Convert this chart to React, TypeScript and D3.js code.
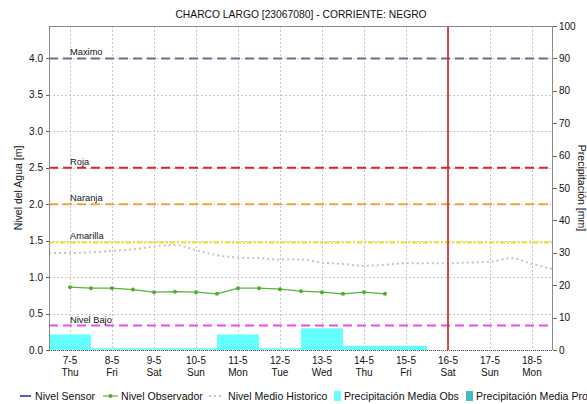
import React from 'react';
import * as d3 from 'd3';

// ---------- data ----------
const title = 'CHARCO LARGO [23067080] - CORRIENTE: NEGRO';
const dayDates = ['2020-05-07','2020-05-08','2020-05-09','2020-05-10','2020-05-11','2020-05-12','2020-05-13','2020-05-14','2020-05-15','2020-05-16','2020-05-17','2020-05-18'];
const dayLabels = ['7-5','8-5','9-5','10-5','11-5','12-5','13-5','14-5','15-5','16-5','17-5','18-5'];
const weekdayLabels = ['Thu','Fri','Sat','Sun','Mon','Tue','Wed','Thu','Fri','Sat','Sun','Mon'];

const precipDates = ['2020-05-07','2020-05-08','2020-05-09','2020-05-10','2020-05-11','2020-05-12','2020-05-13','2020-05-14','2020-05-15'];
const precipObs = [4.8, 0.5, 0.5, 0.5, 4.8, 0.5, 6.7, 1.3, 1.3];

const observerTimes = ['2020-05-07T00','2020-05-07T12','2020-05-08T00','2020-05-08T12','2020-05-09T00','2020-05-09T12','2020-05-10T00','2020-05-10T12','2020-05-11T00','2020-05-11T12','2020-05-12T00','2020-05-12T12','2020-05-13T00','2020-05-13T12','2020-05-14T00','2020-05-14T12'];
const observerLevels = [0.862, 0.848, 0.848, 0.829, 0.793, 0.80, 0.793, 0.77, 0.848, 0.848, 0.834, 0.807, 0.793, 0.77, 0.793, 0.77];

const historicTimes = ['2020-05-06T12','2020-05-07T00','2020-05-07T12','2020-05-08T00','2020-05-08T12','2020-05-09T00','2020-05-09T12','2020-05-10T00','2020-05-10T12','2020-05-11T00','2020-05-11T12','2020-05-12T00','2020-05-12T12','2020-05-13T00','2020-05-13T12','2020-05-14T00','2020-05-14T12','2020-05-15T00','2020-05-15T12','2020-05-16T00','2020-05-16T12','2020-05-17T00','2020-05-17T12','2020-05-18T00','2020-05-18T12'];
const historicLevels = [1.33, 1.33, 1.34, 1.36, 1.38, 1.42, 1.44, 1.37, 1.30, 1.27, 1.26, 1.24, 1.24, 1.20, 1.18, 1.155, 1.17, 1.19, 1.19, 1.19, 1.20, 1.21, 1.26, 1.18, 1.11];

const thresholdNames = ['Maximo', 'Roja', 'Naranja', 'Amarilla', 'Nivel Bajo'];
const thresholdValues = [4.0, 2.5, 2.0, 1.475, 0.335];

const leftTicks = [0, 0.5, 1, 1.5, 2, 2.5, 3, 3.5, 4];
const rightTicks = [0, 10, 20, 30, 40, 50, 60, 70, 80, 90, 100];
const currentDate = '2020-05-16';
const legendLabels = ['Nivel Sensor', 'Nivel Observador', 'Nivel Medio Historico', 'Precipitación Media Obs', 'Precipitación Media Pro'];

// ---------- styles ----------
const thresholdStyles: Record<string, { color: string; dash: string }> = {
  'Maximo': { color: '#6c6c96', dash: '9,5' },
  'Roja': { color: '#e0242a', dash: '9,5' },
  'Naranja': { color: '#f2a33a', dash: '9,5' },
  'Amarilla': { color: '#e6e61e', dash: '5,2,2,2' },
  'Nivel Bajo': { color: '#f048f0', dash: '9,5' },
};
const FONT = '"Liberation Sans", Arial, sans-serif';

const W = 587, H = 404;
const L = 49, R = 553, T = 26, B = 350;

const parse = (s: string) => new Date(s.length === 10 ? s + 'T00:00:00Z' : s + ':00:00Z');

export default function App() {
  const x = d3.scaleUtc()
    .domain([d3.utcHour.offset(parse(dayDates[0]), -12), d3.utcHour.offset(parse(dayDates[dayDates.length - 1]), 12)])
    .range([L, R]);
  const yL = d3.scaleLinear().domain([0, 4 / 0.9]).range([B, T]);
  const yR = d3.scaleLinear().domain([0, 100]).range([B, T]);

  const obs = observerTimes.map((t, i) => ({ t: parse(t), v: observerLevels[i] }));
  const hist = historicTimes.map((t, i) => ({ t: parse(t), v: historicLevels[i] }));
  const lineObs = d3.line<{ t: Date; v: number }>().x(d => x(d.t)).y(d => yL(d.v));
  const lineHist = d3.line<{ t: Date; v: number }>().x(d => x(d.t)).y(d => yL(d.v)).curve(d3.curveMonotoneX);

  const cur = x(parse(currentDate));

  const legendX = [20, 103, 209, 334, 466];
  const legendY = 396;

  return (
    <svg width={W} height={H} style={{ position: 'absolute', left: 0, top: 0, background: '#fff' }} fontFamily={FONT}>
      <rect x={0} y={0} width={W} height={H} fill="#fff" />
      <text x={(L + R) / 2} y={18} textAnchor="middle" fontSize={10.3} fill="#111">{title}</text>

      {/* grid */}
      {leftTicks.map(t => (
        <line key={'gy' + t} x1={L} x2={R} y1={Math.round(yL(t)) + 0.5} y2={Math.round(yL(t)) + 0.5} stroke="#c8c8c8" strokeDasharray="2,2" />
      ))}
      {dayDates.map(d => {
        const xx = Math.round(x(parse(d))) + 0.5;
        return <line key={'gx' + d} x1={xx} x2={xx} y1={T} y2={B} stroke="#c8c8c8" strokeDasharray="2,2" />;
      })}

      {/* precipitation bars */}
      {precipDates.map((d, i) => {
        const dt = parse(d);
        const x0 = x(d3.utcHour.offset(dt, -12));
        const x1 = x(d3.utcHour.offset(dt, 12));
        return <rect key={'p' + d} x={x0} y={yR(precipObs[i])} width={x1 - x0} height={B - yR(precipObs[i])} fill="#66ffff" />;
      })}

      {/* historic */}
      <path d={lineHist(hist) || ''} fill="none" stroke="#c4c4c4" strokeWidth={2} strokeDasharray="2,3" />

      {/* thresholds */}
      {thresholdNames.map((n, i) => {
        const yy = yL(thresholdValues[i]);
        const st = thresholdStyles[n];
        return (
          <g key={'th' + n}>
            <line x1={L} x2={R} y1={yy} y2={yy} stroke={st.color} strokeWidth={2} strokeDasharray={st.dash} />
            <text x={x(parse(dayDates[0]))} y={yy - 3} fontSize={9.3} fill="#111">{n}</text>
          </g>
        );
      })}

      {/* observer */}
      <path d={lineObs(obs) || ''} fill="none" stroke="#5ab43a" strokeWidth={1.2} />
      {obs.map((d, i) => (
        <circle key={'o' + i} cx={x(d.t)} cy={yL(d.v)} r={2} fill="#4caf2c" />
      ))}

      {/* current date */}
      <line x1={cur} x2={cur} y1={T} y2={B} stroke="#d21e1e" strokeWidth={1.6} />

      {/* frame */}
      <line x1={L + 0.5} x2={L + 0.5} y1={T} y2={B} stroke="#8a8a8a" />
      <line x1={R - 0.5} x2={R - 0.5} y1={T} y2={B} stroke="#8a8a8a" />
      <line x1={L} x2={R} y1={T + 0.5} y2={T + 0.5} stroke="#8a8a8a" />
      <line x1={L} x2={R} y1={B + 0.5} y2={B + 0.5} stroke="#555" strokeDasharray="1,1" />

      {/* left axis */}
      {leftTicks.map(t => (
        <g key={'lt' + t}>
          <line x1={L - 3} x2={L} y1={Math.round(yL(t)) + 0.5} y2={Math.round(yL(t)) + 0.5} stroke="#666" />
          <text x={L - 6} y={yL(t) + 3.5} textAnchor="end" fontSize={10} fill="#111">{d3.format('.1f')(t)}</text>
        </g>
      ))}
      <text transform={`translate(${22},${(T + B) / 2}) rotate(-90)`} textAnchor="middle" fontSize={10.5} fill="#111">Nivel del Agua [m]</text>

      {/* right axis */}
      {rightTicks.map(t => (
        <g key={'rt' + t}>
          <line x1={R} x2={R + 4} y1={Math.round(yR(t)) + 0.5} y2={Math.round(yR(t)) + 0.5} stroke="#666" />
          <text x={R + 6} y={yR(t) + 3.5} textAnchor="start" fontSize={10} fill="#111">{t}</text>
        </g>
      ))}
      <text transform={`translate(${578},${(T + B) / 2}) rotate(90)`} textAnchor="middle" fontSize={10.5} fill="#111">Precipitación [mm]</text>

      {/* bottom axis labels */}
      {dayDates.map((d, i) => {
        const xx = x(parse(d));
        return (
          <g key={'xl' + d}>
            <text x={xx} y={364} textAnchor="middle" fontSize={10} fill="#111">{dayLabels[i]}</text>
            <text x={xx} y={376} textAnchor="middle" fontSize={10} fill="#111">{weekdayLabels[i]}</text>
          </g>
        );
      })}

      {/* legend */}
      <g fontSize={10.6} fill="#111">
        <line x1={legendX[0]} x2={legendX[0] + 11} y1={legendY} y2={legendY} stroke="#1a2a9a" strokeWidth={1.5} />
        <text x={legendX[0] + 15} y={legendY + 4}>{legendLabels[0]}</text>

        <line x1={legendX[1]} x2={legendX[1] + 15} y1={legendY} y2={legendY} stroke="#5ab43a" strokeWidth={1.2} />
        <circle cx={legendX[1] + 7.5} cy={legendY} r={2} fill="#4caf2c" />
        <text x={legendX[1] + 18} y={legendY + 4}>{legendLabels[1]}</text>

        <line x1={legendX[2]} x2={legendX[2] + 15} y1={legendY} y2={legendY} stroke="#c4c4c4" strokeWidth={2} strokeDasharray="2,3" />
        <text x={legendX[2] + 19} y={legendY + 4}>{legendLabels[2]}</text>

        <rect x={legendX[3]} y={legendY - 5} width={7} height={10} fill="#66ffff" />
        <text x={legendX[3] + 10} y={legendY + 4}>{legendLabels[3]}</text>

        <rect x={legendX[4]} y={legendY - 5} width={7} height={10} fill="#3cc0c0" />
        <text x={legendX[4] + 10} y={legendY + 4}>{legendLabels[4]}</text>
      </g>
    </svg>
  );
}
